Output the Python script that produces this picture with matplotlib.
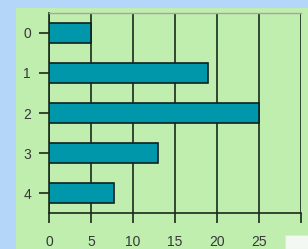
import matplotlib
matplotlib.use('Agg')
import matplotlib.pyplot as plt
from matplotlib.patches import Rectangle

# data
categories = ['0', '1', '2', '3', '4']
values = [5, 19, 25, 13, 7.8]
x_ticks = [0, 5, 10, 15, 20, 25]

W, H = 308, 249
fig = plt.figure(figsize=(W / 100, H / 100), dpi=100)
fig.patch.set_facecolor('#b4d6f8')

# green panel behind the plot
fig.add_artist(Rectangle((16 / W, 0), 1 - 16 / W, (H - 8) / H,
                         transform=fig.transFigure, facecolor='#c0eeae',
                         edgecolor='none', zorder=0))
# little white box in the lower right corner
fig.add_artist(Rectangle((285 / W, 0), 1, 14 / H,
                         transform=fig.transFigure, facecolor='#f4f8f2',
                         edgecolor='#e0e8dc', lw=0.8, zorder=1))

ax = fig.add_axes([49 / W, (H - 213) / H, (300.7 - 49) / W, 200 / H])
ax.set_facecolor('none')

ypos = range(len(categories))
ax.barh(ypos, values, height=0.48, color='#0097ab', edgecolor='#102020',
        linewidth=1.2, zorder=3)

ax.set_xlim(0, 30)
ax.set_ylim(4.5, -0.5)
ax.set_xticks(x_ticks + [30])
ax.set_xticklabels([str(t) for t in x_ticks] + [''])
ax.set_yticks(list(ypos))
ax.set_yticklabels(categories)

ax.xaxis.grid(True, color='#1a2a1a', linewidth=1.2, zorder=1)
ax.set_axisbelow(True)

for s in ['left', 'bottom']:
    ax.spines[s].set_color('#1a2a1a')
    ax.spines[s].set_linewidth(1.2)
ax.spines['right'].set_visible(False)
ax.spines['top'].set_color('#a0a8a0')
ax.spines['top'].set_linewidth(1.0)

ax.tick_params(axis='both', colors='#1a2a1a', width=1.2, length=7,
               labelsize=10, labelcolor='#383838')
ax.tick_params(axis='x', pad=9)
ax.tick_params(axis='y', pad=6)
for lab in ax.get_xticklabels() + ax.get_yticklabels():
    lab.set_family('Liberation Sans')

fig.savefig('out.png', dpi=100, facecolor=fig.get_facecolor())
